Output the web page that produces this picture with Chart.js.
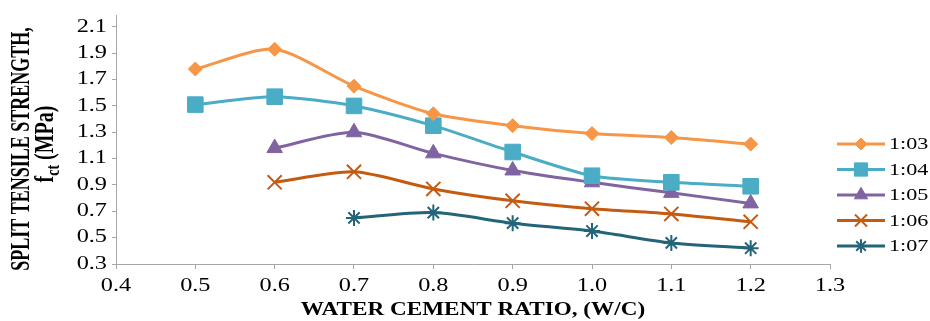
<!DOCTYPE html>
<html>
<head>
<meta charset="utf-8">
<script src="https://cdn.jsdelivr.net/npm/chart.js"></script>
<style>
  html, body { margin: 0; padding: 0; background: #ffffff; }
  #wrap { width: 930px; height: 321px; }
</style>
</head>
<body>
<div id="wrap"><canvas id="c" width="930" height="321"></canvas></div>
<script>
// ---- data ----
const wcRatio = [0.5, 0.6, 0.7, 0.8, 0.9, 1.0, 1.1, 1.2];
const mix103 = [1.78, 1.93, 1.65, 1.44, 1.35, 1.29, 1.26, 1.21];
const mix104 = [1.51, 1.57, 1.50, 1.35, 1.15, 0.97, 0.92, 0.89];
const mix105 = [null, 1.18, 1.30, 1.14, 1.01, 0.92, 0.84, 0.76];
const mix106 = [null, 0.92, 1.00, 0.87, 0.78, 0.72, 0.68, 0.62];
const mix107 = [null, null, 0.65, 0.69, 0.61, 0.55, 0.46, 0.42];
const seriesNames = ['1:03', '1:04', '1:05', '1:06', '1:07'];
const xTicks = [0.4, 0.5, 0.6, 0.7, 0.8, 0.9, 1.0, 1.1, 1.2, 1.3];
const yTicks = [0.3, 0.5, 0.7, 0.9, 1.1, 1.3, 1.5, 1.7, 1.9, 2.1];
const xTitle = 'WATER CEMENT RATIO, (W/C)';
const yTitleLine1 = 'SPLIT TENSILE STRENGTH,';
const yTitleLine2 = ['f', 'ct', ' (MPa)'];

// ---- styles ----
const colors = ['#F79646', '#4BACC6', '#8064A2', '#C55A11', '#236478'];
const pointStyles = ['rectRot', 'rect', 'triangle', 'crossRot', 'star'];
const pointRadii = [7, 11, 9, 10, 8];
const pointBorders = [1, 1, 1, 2, 2];
const allSeries = [mix103, mix104, mix105, mix106, mix107];

function toPoints(vals) {
  const out = [];
  vals.forEach((v, i) => { if (v !== null) out.push({ x: wcRatio[i], y: v }); });
  return out;
}

const datasets = allSeries.map((vals, i) => ({
  label: seriesNames[i],
  data: toPoints(vals),
  borderColor: colors[i],
  backgroundColor: colors[i],
  borderWidth: 3,
  tension: 0.25,
  pointStyle: pointStyles[i],
  pointRadius: pointRadii[i],
  pointHoverRadius: pointRadii[i],
  pointBorderWidth: pointBorders[i],
  pointBackgroundColor: colors[i],
  pointBorderColor: colors[i]
}));

function drawStretched(ctx, text, x, y, sx, font, align) {
  ctx.save();
  ctx.translate(x, y);
  ctx.scale(sx, 1);
  ctx.font = font;
  ctx.textAlign = align || 'center';
  ctx.textBaseline = 'middle';
  ctx.fillStyle = '#000';
  ctx.fillText(text, 0, 0);
  ctx.restore();
}

const tickFontStr = '18px "Liberation Serif"';
const tickStretch = 1.35;

const decorPlugin = {
  id: 'decor',
  afterDraw(chart) {
    const ctx = chart.ctx;
    const area = chart.chartArea;
    const xs = chart.scales.x, ys = chart.scales.y;

    // tick labels, positioned by the library's scales
    xTicks.forEach(v => {
      drawStretched(ctx, v.toFixed(1), xs.getPixelForValue(v), 286, tickStretch, tickFontStr, 'center');
    });
    yTicks.forEach(v => {
      drawStretched(ctx, v.toFixed(1), 107, ys.getPixelForValue(v), tickStretch, tickFontStr, 'right');
    });

    // x axis title
    drawStretched(ctx, xTitle, (area.left + area.right) / 2, 310, 1.22,
      'bold 19px "Liberation Serif"', 'center');

    // y axis title line 1
    ctx.save();
    ctx.translate(22, 149);
    ctx.rotate(-Math.PI / 2);
    ctx.scale(1, 1.5);
    ctx.font = 'bold 18px "Liberation Serif"';
    ctx.textAlign = 'center';
    ctx.textBaseline = 'middle';
    ctx.fillStyle = '#000';
    ctx.fillText(yTitleLine1, 0, 0);
    ctx.restore();

    // y axis title line 2 with subscript
    ctx.save();
    ctx.translate(45, 144);
    ctx.rotate(-Math.PI / 2);
    ctx.scale(1, 1.35);
    ctx.fillStyle = '#000';
    ctx.textBaseline = 'alphabetic';
    ctx.textAlign = 'left';
    const fMain = 'bold 20px "Liberation Serif"';
    const fSub = 'bold 14px "Liberation Serif"';
    ctx.font = fMain; const w0 = ctx.measureText(yTitleLine2[0]).width;
    ctx.font = fSub; const w1 = ctx.measureText(yTitleLine2[1]).width;
    ctx.font = fMain; const w2 = ctx.measureText(yTitleLine2[2]).width;
    let sx = -(w0 + w1 + w2) / 2;
    const base = 6;
    ctx.font = fMain; ctx.fillText(yTitleLine2[0], sx, base); sx += w0;
    ctx.font = fSub; ctx.fillText(yTitleLine2[1], sx, base + 4); sx += w1;
    ctx.font = fMain; ctx.fillText(yTitleLine2[2], sx, base);
    ctx.restore();

    // legend
    const ly0 = 144, lstep = 25.5;
    seriesNames.forEach((name, i) => {
      const y = ly0 + i * lstep;
      ctx.save();
      ctx.strokeStyle = colors[i];
      ctx.lineWidth = 3;
      ctx.beginPath();
      ctx.moveTo(837, y);
      ctx.lineTo(885, y);
      ctx.stroke();
      ctx.fillStyle = colors[i];
      ctx.strokeStyle = colors[i];
      ctx.lineWidth = pointBorders[i];
      Chart.helpers.drawPoint(ctx, {
        pointStyle: pointStyles[i],
        radius: pointRadii[i] * 0.85,
        rotation: 0,
        borderWidth: pointBorders[i]
      }, 861, y);
      ctx.restore();
      drawStretched(ctx, name, 889, y + 1, 1.3, '17px "Liberation Serif"', 'left');
    });
  }
};

const axisGray = '#a6a6a6';

new Chart(document.getElementById('c'), {
  type: 'line',
  data: { datasets },
  plugins: [decorPlugin],
  options: {
    responsive: false,
    devicePixelRatio: 1,
    animation: false,
    layout: { padding: { left: 0, top: 15, right: 100, bottom: 0 } },
    plugins: { legend: { display: false }, tooltip: { enabled: false } },
    scales: {
      x: {
        type: 'linear',
        min: 0.4,
        max: 1.3,
        afterBuildTicks: (s) => { s.ticks = xTicks.map(v => ({ value: v })); },
        afterFit: (s) => { s.height = 57; },
        grid: { drawOnChartArea: false, drawTicks: true, tickLength: 5, color: axisGray },
        border: { display: true, color: axisGray, width: 1 },
        ticks: { display: false }
      },
      y: {
        type: 'linear',
        min: 0.3,
        max: 2.19,
        afterBuildTicks: (s) => { s.ticks = yTicks.map(v => ({ value: v })); },
        afterFit: (s) => { s.width = 116; },
        grid: { drawOnChartArea: false, drawTicks: true, tickLength: 4, color: axisGray },
        border: { display: true, color: axisGray, width: 1 },
        ticks: { display: false }
      }
    }
  }
});
</script>
</body>
</html>
